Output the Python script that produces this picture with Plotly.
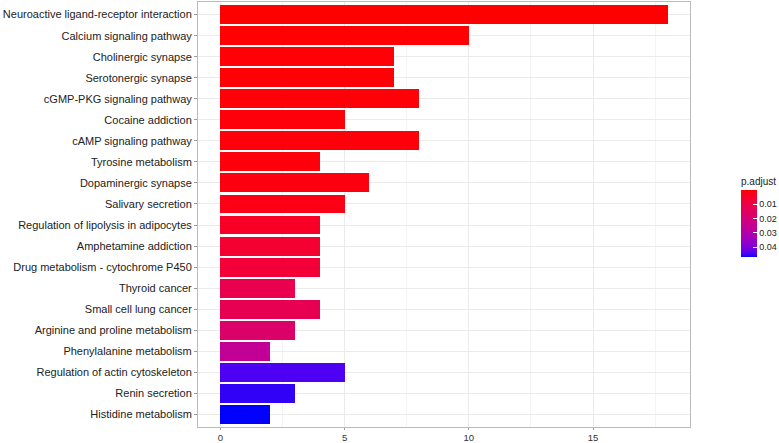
import plotly.graph_objects as go
import numpy as np

categories = [
    "Neuroactive ligand-receptor interaction",
    "Calcium signaling pathway",
    "Cholinergic synapse",
    "Serotonergic synapse",
    "cGMP-PKG signaling pathway",
    "Cocaine addiction",
    "cAMP signaling pathway",
    "Tyrosine metabolism",
    "Dopaminergic synapse",
    "Salivary secretion",
    "Regulation of lipolysis in adipocytes",
    "Amphetamine addiction",
    "Drug metabolism - cytochrome P450",
    "Thyroid cancer",
    "Small cell lung cancer",
    "Arginine and proline metabolism",
    "Phenylalanine metabolism",
    "Regulation of actin cytoskeleton",
    "Renin secretion",
    "Histidine metabolism",
]
counts = [18, 10, 7, 7, 8, 5, 8, 4, 6, 5, 4, 4, 4, 3, 4, 3, 2, 5, 3, 2]
p_adjust = [0.00001, 0.0003, 0.0005, 0.0005, 0.0006, 0.0008, 0.0009, 0.001, 0.0015, 0.002,
            0.004, 0.006, 0.007, 0.011, 0.012, 0.017, 0.026, 0.0445, 0.0455, 0.047]
cbar_ticks = [0.01, 0.02, 0.03, 0.04]
x_ticks = [0, 5, 10, 15]


# Lab interpolation between red and blue (ggplot-style gradient)
def srgb_to_lab(rgb):
    c = np.array(rgb) / 255.0
    c = np.where(c > 0.04045, ((c + 0.055) / 1.055) ** 2.4, c / 12.92)
    M = np.array([[0.4124, 0.3576, 0.1805], [0.2126, 0.7152, 0.0722], [0.0193, 0.1192, 0.9505]])
    xyz = M @ c
    xyz = xyz / np.array([0.95047, 1.0, 1.08883])
    f = np.where(xyz > 0.008856, np.cbrt(xyz), 7.787 * xyz + 16 / 116)
    return np.array([116 * f[1] - 16, 500 * (f[0] - f[1]), 200 * (f[1] - f[2])])


def lab_to_srgb(lab):
    L, a, b = lab
    fy = (L + 16) / 116
    fx = fy + a / 500
    fz = fy - b / 200
    f = np.array([fx, fy, fz])
    xyz = np.where(f ** 3 > 0.008856, f ** 3, (f - 16 / 116) / 7.787)
    xyz = xyz * np.array([0.95047, 1.0, 1.08883])
    M = np.array([[3.2406, -1.5372, -0.4986], [-0.9689, 1.8758, 0.0415], [0.0557, -0.2040, 1.0570]])
    c = M @ xyz
    c = np.clip(c, 0, 1)
    c = np.where(c > 0.0031308, 1.055 * c ** (1 / 2.4) - 0.055, 12.92 * c)
    c = np.clip(np.round(c * 255), 0, 255).astype(int)
    return "rgb(%d,%d,%d)" % tuple(c)


lab_blue = srgb_to_lab([0, 0, 255])
lab_red = srgb_to_lab([255, 0, 0])
colorscale = []
for t in np.linspace(0, 1, 21):
    colorscale.append([float(t), lab_to_srgb(lab_blue + (lab_red - lab_blue) * t)])

neg_p = [-p for p in p_adjust]

fig = go.Figure()
fig.add_trace(go.Bar(
    x=counts,
    y=categories,
    orientation="h",
    width=0.9,
    marker=dict(
        color=neg_p,
        colorscale=colorscale,
        cmin=-max(p_adjust),
        cmax=-min(p_adjust),
        line=dict(width=0),
        showscale=True,
        colorbar=dict(
            title=dict(text="p.adjust", side="top", font=dict(size=10, color="#222222")),
            x=1.1037, xanchor="left", xpad=0,
            y=0.4976, yanchor="middle", ypad=0,
            len=0.195, lenmode="fraction",
            thickness=16,
            outlinewidth=0,
            tickvals=[-v for v in cbar_ticks],
            ticktext=[str(v) for v in cbar_ticks],
            ticks="inside", ticklen=4, tickcolor="white",
            tickfont=dict(size=9, color="#222222"),
        ),
    ),
    hoverinfo="x+y",
))

fig.update_layout(
    width=779, height=443,
    margin=dict(l=198, r=89, t=2, b=16, autoexpand=False),
    paper_bgcolor="white",
    plot_bgcolor="white",
    font=dict(family="Liberation Sans, Arial, sans-serif", color="#222222"),
    showlegend=False,
    bargap=0,
)
fig.update_xaxes(
    range=[-0.9, 18.9],
    tickvals=x_ticks,
    ticks="outside", ticklen=2, tickcolor="#999999",
    ticklabelstandoff=0,
    tickfont=dict(size=9.5, color="#333333"),
    showgrid=True, gridcolor="#EBEBEB", gridwidth=1,
    minor=dict(dtick=2.5, tick0=2.5, showgrid=True, gridcolor="#F4F4F4", gridwidth=0.5),
    zeroline=False,
    automargin=False,
    showline=True, linecolor="#BBBBBB", linewidth=1, mirror=True,
)
fig.update_yaxes(
    categoryorder="array",
    categoryarray=list(reversed(categories)),
    range=[-0.6, 19.6],
    ticks="outside", ticklen=3, tickcolor="#999999",
    tickfont=dict(size=11, color="#222222"),
    showgrid=True, gridcolor="#EBEBEB", gridwidth=1,
    zeroline=False,
    automargin=False,
    showline=True, linecolor="#BBBBBB", linewidth=1, mirror=True,
)

fig.write_html("out.html", config={"displayModeBar": False},
               post_script="document.body.style.margin='0px';")
